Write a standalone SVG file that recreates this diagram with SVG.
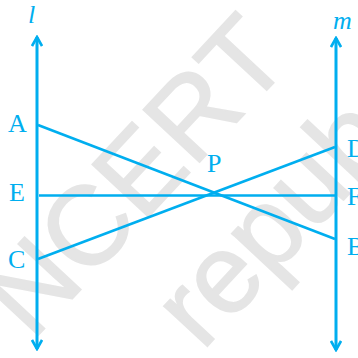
<svg xmlns="http://www.w3.org/2000/svg" width="358" height="358" viewBox="0 0 358 358">
<style>
.wm{fill:#e5e5e5;stroke:#e5e5e5;stroke-width:1.5;font-family:"Liberation Sans",Arial,sans-serif;font-size:112px}
.ln{stroke:#00aeef;stroke-width:3;fill:none}
.tr{stroke:#00aeef;stroke-width:2.6;fill:none}
.lb{fill:#00aeef;font-family:"Liberation Serif","Times New Roman",serif;font-size:26px}
.it{font-style:italic}
</style>
<defs>
<marker id="ah" viewBox="0 0 12 12" refX="10" refY="6" markerWidth="12" markerHeight="12" markerUnits="userSpaceOnUse" orient="auto-start-reverse">
<path d="M1,1 L10,6 L1,11" fill="none" stroke="#00aeef" stroke-width="2.6"/>
</marker>
</defs>
<g id="watermark">
<text class="wm" transform="translate(32,342) rotate(-47)">NCERT</text>
<text class="wm" transform="translate(202,352) rotate(-47)">repub</text>
</g>
<g id="connectors">
<line class="ln" x1="37" y1="37" x2="37" y2="349" marker-start="url(#ah)" marker-end="url(#ah)"/>
<line class="ln" x1="336" y1="38" x2="336" y2="350" marker-start="url(#ah)" marker-end="url(#ah)"/>
<line class="tr" x1="38" y1="125" x2="335" y2="239"/>
<line class="tr" x1="38" y1="259" x2="335" y2="147"/>
<line class="tr" x1="39" y1="195.5" x2="335" y2="195.5"/>
</g>
<g id="l"><text class="lb it" x="28" y="23">l</text></g>
<g id="m"><text class="lb it" x="333" y="29">m</text></g>
<g id="A"><text class="lb" x="8" y="132">A</text></g>
<g id="E"><text class="lb" x="9" y="201">E</text></g>
<g id="C"><text class="lb" x="8" y="268">C</text></g>
<g id="D"><text class="lb" x="347" y="157">D</text></g>
<g id="F"><text class="lb" x="347" y="205">F</text></g>
<g id="B"><text class="lb" x="347" y="255">B</text></g>
<g id="P"><text class="lb" x="207" y="172">P</text></g>
</svg>
